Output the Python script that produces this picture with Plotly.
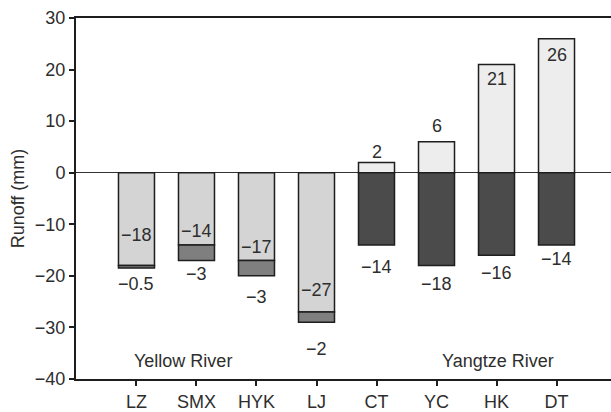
import plotly.graph_objects as go

# Station codes along the x axis (Yellow River first, then Yangtze River)
stations = ["LZ", "SMX", "HYK", "LJ", "CT", "YC", "HK", "DT"]

# First stacked component of runoff change (mm)
component_a = [-18, -14, -17, -27, 2, 6, 21, 26]
# Second stacked component of runoff change (mm)
component_b = [-0.5, -3, -3, -2, -14, -18, -16, -14]

y_ticks = [-40, -30, -20, -10, 0, 10, 20, 30]

# Styling
fill_a = ["#d4d4d4"] * 4 + ["#ededed"] * 4
fill_b = ["#7f7f7f"] * 4 + ["#4b4b4b"] * 4
outline = "#1e1e1e"
text_color = "#2e2e2e"
font_family = "Liberation Sans, Arial, sans-serif"
font_size = 18

# Pixel offsets of the value labels relative to the bar ends
shift_a = [31, 14, 13, 22, 10, 16, -15, -16]
shift_b = [-16, -14, -21, -27, -22, -18, -18, -14]


def fmt(v):
    return f"{v:g}".replace("-", "\u2212")


fig = go.Figure()
fig.add_trace(go.Bar(
    x=stations, y=component_a, width=0.6,
    marker=dict(color=fill_a, line=dict(color=outline, width=1.5)),
    showlegend=False, hoverinfo="skip",
))
fig.add_trace(go.Bar(
    x=stations, y=component_b, width=0.6,
    marker=dict(color=fill_b, line=dict(color=outline, width=1.5)),
    showlegend=False, hoverinfo="skip",
))

label_font = dict(size=font_size, color=text_color)
annotations = []
for i, (a, b) in enumerate(zip(component_a, component_b)):
    annotations.append(dict(
        x=stations[i], y=a, text=fmt(a), showarrow=False,
        yshift=shift_a[i], font=label_font,
    ))
    bottom = b + (a if a < 0 else 0)
    annotations.append(dict(
        x=stations[i], y=bottom, text=fmt(b), showarrow=False,
        yshift=shift_b[i], font=label_font,
    ))

annotations.append(dict(x=0.77, y=-36.6, text="Yellow River", showarrow=False,
                        font=label_font))
annotations.append(dict(x=6.03, y=-36.6, text="Yangtze River", showarrow=False,
                        font=label_font))

fig.update_layout(
    width=611, height=412,
    margin=dict(l=76, r=0, t=18, b=31),
    barmode="relative",
    plot_bgcolor="white", paper_bgcolor="white",
    font=dict(family=font_family, size=font_size, color=text_color),
    annotations=annotations,
    xaxis=dict(
        range=[-1.008, 7.908], showgrid=False,
        showline=True, linecolor=outline, linewidth=2, mirror=True,
        ticks="outside", ticklen=5, tickwidth=2, tickcolor=outline,
        tickfont=label_font,
    ),
    yaxis=dict(
        range=[-40, 30], tickvals=y_ticks, showgrid=False,
        showline=True, linecolor=outline, linewidth=2,
        ticks="outside", ticklen=5, tickwidth=2, tickcolor=outline,
        zeroline=True, zerolinecolor="#333333", zerolinewidth=1,
        tickfont=label_font,
        title=dict(text="Runoff (mm)", font=label_font, standoff=6),
    ),
)

fig.write_html("out.html")
